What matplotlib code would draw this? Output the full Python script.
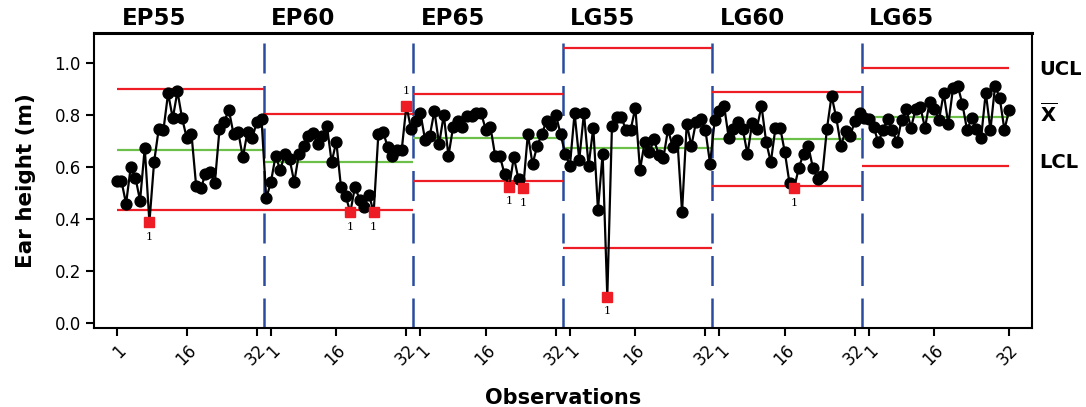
import numpy as np
import matplotlib
matplotlib.use("Agg")
import matplotlib.pyplot as plt
import matplotlib.transforms as mtransforms

# Stages and observations (32 per stage)
stages = ['EP55', 'EP60', 'EP65', 'LG55', 'LG60', 'LG65']

ep55 = [0.547, 0.547, 0.458, 0.599, 0.559, 0.470, 0.673, 0.387, 0.618, 0.747,
        0.742, 0.883, 0.787, 0.890, 0.787, 0.710, 0.727, 0.527, 0.517, 0.573,
        0.582, 0.537, 0.745, 0.774, 0.819, 0.727, 0.736, 0.636, 0.736, 0.710,
        0.774, 0.783]
ep60 = [0.479, 0.541, 0.642, 0.588, 0.650, 0.630, 0.541, 0.650, 0.681, 0.719,
        0.730, 0.688, 0.719, 0.758, 0.618, 0.697, 0.522, 0.488, 0.425, 0.524,
        0.473, 0.445, 0.492, 0.425, 0.726, 0.736, 0.676, 0.642, 0.665, 0.665,
        0.835, 0.745]
ep65 = [0.778, 0.807, 0.704, 0.719, 0.815, 0.687, 0.800, 0.642, 0.753, 0.778,
        0.755, 0.796, 0.796, 0.807, 0.807, 0.742, 0.753, 0.642, 0.642, 0.573,
        0.524, 0.637, 0.552, 0.518, 0.727, 0.610, 0.681, 0.726, 0.778, 0.762,
        0.800, 0.726]
lg55 = [0.650, 0.604, 0.807, 0.627, 0.807, 0.604, 0.751, 0.435, 0.650, 0.101,
        0.758, 0.791, 0.791, 0.742, 0.742, 0.828, 0.588, 0.696, 0.656, 0.706,
        0.646, 0.633, 0.745, 0.676, 0.704, 0.427, 0.765, 0.681, 0.774, 0.783,
        0.742, 0.612]
lg60 = [0.781, 0.813, 0.835, 0.710, 0.745, 0.774, 0.745, 0.649, 0.768, 0.747,
        0.835, 0.696, 0.618, 0.751, 0.751, 0.656, 0.537, 0.518, 0.597, 0.650,
        0.681, 0.597, 0.554, 0.565, 0.745, 0.873, 0.790, 0.681, 0.738, 0.719,
        0.778, 0.807]
lg65 = [0.787, 0.783, 0.755, 0.694, 0.742, 0.783, 0.742, 0.694, 0.781, 0.822,
        0.750, 0.822, 0.830, 0.750, 0.851, 0.822, 0.781, 0.883, 0.764, 0.903,
        0.912, 0.842, 0.742, 0.787, 0.745, 0.710, 0.886, 0.742, 0.912, 0.864,
        0.742, 0.819]

# control limits per stage
ucl = [0.900, 0.803, 0.882, 1.058, 0.887, 0.980]
cl = [0.665, 0.618, 0.712, 0.672, 0.707, 0.792]
lcl = [0.433, 0.433, 0.546, 0.287, 0.526, 0.603]

tick_labels = ['1', '16', '32']

series = [ep55, ep60, ep65, lg55, lg60, lg65]
n = len(ep55)
y = np.concatenate(series)
x = np.arange(1, len(y) + 1)

RED = '#ee1c25'
GREEN = '#6cc04a'
BLUE = '#2b4c9e'

fig = plt.figure(figsize=(10.86, 4.07), dpi=100)
ax = fig.add_axes([94 / 1086, 79 / 407, 938 / 1086, 295 / 407])

# limits and stage separators
for k in range(len(stages)):
    x0 = max(1, k * n + 0.5)
    x1 = min(len(y), (k + 1) * n + 0.5)
    ax.hlines([ucl[k], lcl[k]], x0, x1, color=RED, lw=1.6, zorder=2)
    ax.hlines(cl[k], x0, x1, color=GREEN, lw=1.6, zorder=2)
    if k > 0:
        ax.axvline(k * n + 0.5, color=BLUE, lw=1.8, ls=(0, (12, 5)), zorder=1)

# out-of-control points (test 1)
lo = np.repeat(lcl, n)
hi = np.repeat(ucl, n)
flag = (y < lo) | (y > hi)

ax.plot(x, y, color='black', lw=1.6, zorder=3)
ax.plot(x[~flag], y[~flag], 'o', color='black', ms=7.8, zorder=4)
ax.plot(x[flag], y[flag], 's', color=RED, ms=6.8, zorder=5)
for xi, yi, up in zip(x[flag], y[flag], (y > hi)[flag]):
    ax.annotate('1', (xi, yi), xytext=(0, 7 if up else -7), textcoords='offset points',
                ha='center', va='bottom' if up else 'top', fontsize=8,
                family='DejaVu Serif', zorder=6)

# stage names above the plot
trans = mtransforms.blended_transform_factory(ax.transData, ax.transAxes)
for k, name in enumerate(stages):
    ax.text(k * n + 2, 1.05, name, transform=trans, ha='left', va='center',
            fontsize=16.5, fontweight='bold')

# right-hand labels
trans_r = mtransforms.blended_transform_factory(ax.transAxes, ax.transData)
ax.text(1.008, 0.973, 'UCL', transform=trans_r, ha='left', va='center',
        fontsize=14, fontweight='bold')
ax.text(1.008, 0.805, r'$\mathbf{\overline{X}}$', transform=trans_r,
        ha='left', va='center', fontsize=14)
ax.text(1.008, 0.615, 'LCL', transform=trans_r, ha='left', va='center',
        fontsize=14, fontweight='bold')

# x ticks: 1, 16, 32 within each stage
ticks, labels = [], []
for k in range(len(stages)):
    s = k * n
    ticks += [s + (1 if k == 0 else 2), s + 16, s + (n if k == len(stages) - 1 else n - 1)]
    labels += tick_labels
ax.set_xticks(ticks)
ax.set_xticklabels(labels, rotation=45, ha='right', rotation_mode='anchor', fontsize=12)
ax.set_yticks(np.arange(0, 1.01, 0.2))
ax.set_yticklabels([f'{v:.1f}' for v in np.arange(0, 1.01, 0.2)], fontsize=12)
ax.tick_params(axis='both', direction='out', length=6, width=1.5)

ax.set_xlim(-3.86, 196.9)
ax.set_ylim(-0.02, 1.115)
for sp in ax.spines.values():
    sp.set_linewidth(1.5)
ax.spines['top'].set_linewidth(2.2)

ax.set_xlabel('Observations', fontsize=15, fontweight='bold', labelpad=14)
ax.set_ylabel('Ear height (m)', fontsize=15.5, fontweight='bold', labelpad=13)

plt.savefig('out.png', dpi=100)
plt.close(fig)
